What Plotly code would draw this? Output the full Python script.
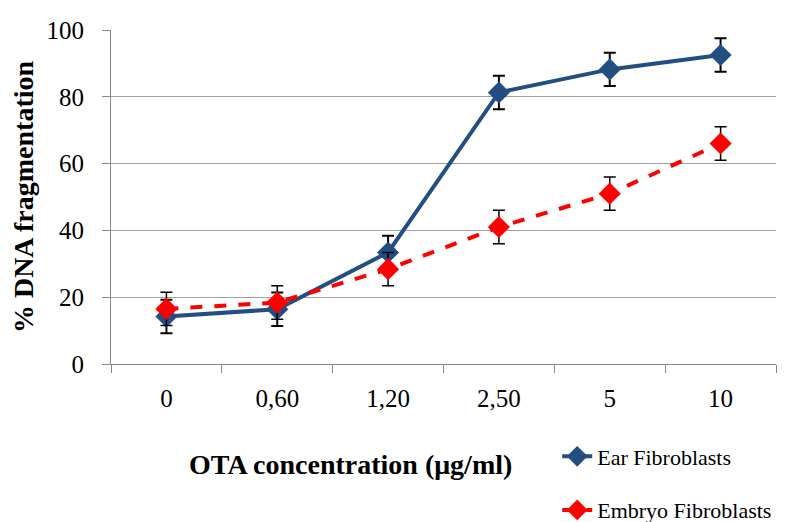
import plotly.graph_objects as go

categories = ["0", "0,60", "1,20", "2,50", "5", "10"]
ear_values = [14.2, 16.4, 33.4, 81.3, 88.2, 92.5]
ear_errors = [5, 5, 5, 5, 5, 5]
embryo_values = [16.5, 18.4, 28.4, 41.0, 51.0, 66.0]
embryo_errors = [5, 5, 5, 5, 5, 5]

fig = go.Figure()
fig.add_trace(go.Scatter(
    x=categories, y=ear_values, name="Ear Fibroblasts", legendgroup="a",
    mode="lines+markers",
    line=dict(color="#234E82", width=4),
    marker=dict(symbol="diamond", size=17, color="#234E82"),
    error_y=dict(type="data", array=ear_errors, color="black", thickness=2, width=6),
))
fig.add_trace(go.Scatter(
    x=categories, y=embryo_values, name="Embryo Fibroblasts", legendgroup="b",
    mode="lines+markers",
    line=dict(color="#FF0000", width=4, dash="dash"),
    marker=dict(symbol="diamond", size=17, color="#FF0000"),
    error_y=dict(type="data", array=embryo_errors, color="black", thickness=1.5, width=6),
))

font_family = "Liberation Serif"
fig.update_layout(
    width=808, height=522,
    margin=dict(l=103, r=40, t=22, b=166, autoexpand=False),
    paper_bgcolor="white", plot_bgcolor="white",
    font=dict(family=font_family, size=25, color="black"),
    legend=dict(x=0.671, y=-0.214, xanchor="left", yanchor="top",
                font=dict(size=22, family=font_family),
                tracegroupgap=22, bgcolor="rgba(0,0,0,0)"),
    xaxis=dict(
        type="category", range=[-0.5, 5.5], automargin=False,
        tickson="boundaries", ticks="outside", ticklen=8, tickcolor="#888888",
        showline=True, linecolor="#888888", linewidth=1,
        showgrid=False, ticklabelstandoff=12,
        tickfont=dict(size=25, family=font_family),
    ),
    yaxis=dict(
        range=[0, 100], dtick=20, ticks="outside", ticklen=8, tickcolor="#888888",
        showline=True, linecolor="#888888", linewidth=1, automargin=False,
        showgrid=True, gridcolor="#A0A0A0", gridwidth=1, zeroline=False,
        ticklabelstandoff=13,
        tickfont=dict(size=25, family=font_family),
        title=dict(text="<b>% DNA fragmentation</b>", standoff=12,
                   font=dict(size=28, family=font_family)),
    ),
    annotations=[dict(
        text="<b>OTA concentration (μg/ml)</b>", xref="paper", yref="paper",
        x=0.36, y=-0.302, xanchor="center", yanchor="middle", showarrow=False,
        font=dict(size=28, family=font_family),
    )],
)
fig.write_html("out.html")
